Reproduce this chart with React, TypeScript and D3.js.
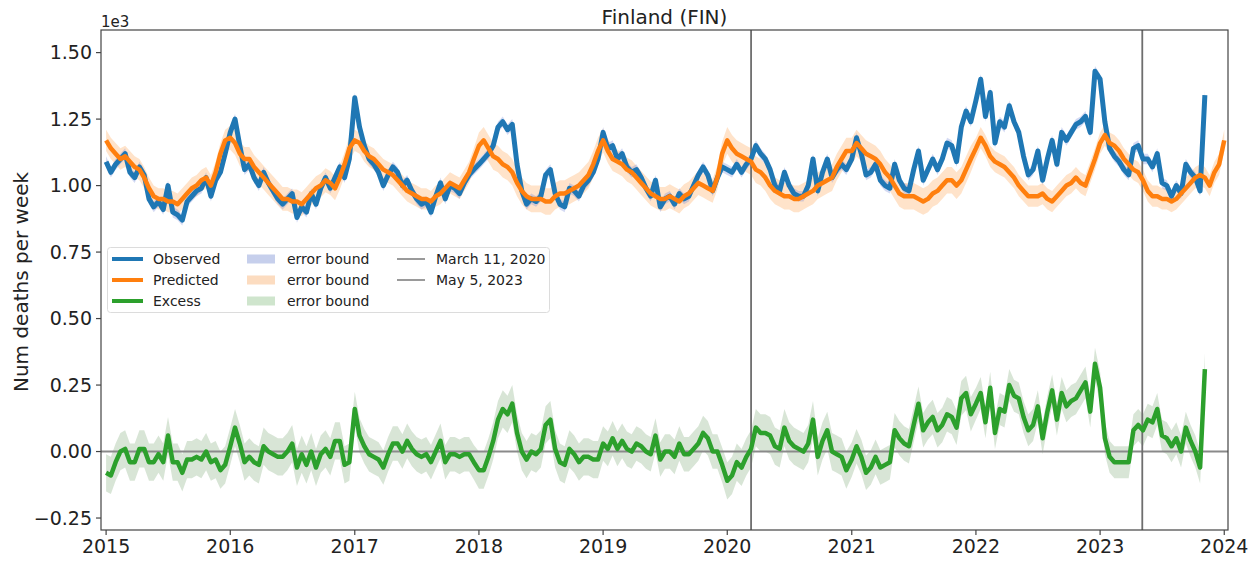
import React, { useMemo } from 'react'
import * as d3 from 'd3'

const width = 1259
const height = 561
const margin = { top: 30, right: 31, bottom: 31, left: 101 }

// weekly deaths in thousands, one value every two weeks, 26 per year starting Jan 1
const startYear = 2015
const observed = [
  // 2015
  1.09, 1.05, 1.08, 1.10, 1.12, 1.05, 1.03, 1.07, 1.04, 0.95, 0.92, 0.94, 0.91, 1.00, 0.90, 0.89, 0.87, 0.94, 0.96, 0.98, 0.99, 1.03, 0.96, 1.02, 1.05, 1.12,
  // 2016
  1.20, 1.25, 1.15, 1.06, 1.08, 1.03, 1.00, 1.05, 1.01, 0.98, 0.95, 0.93, 0.95, 0.97, 0.88, 0.92, 0.90, 0.97, 0.93, 0.99, 1.03, 0.99, 1.03, 1.07, 1.03, 1.10,
  // 2017
  1.33, 1.22, 1.15, 1.10, 1.08, 1.05, 1.00, 1.04, 1.07, 1.05, 1.00, 1.02, 0.98, 0.95, 0.93, 0.94, 0.90, 0.96, 1.01, 0.95, 1.00, 0.99, 0.97, 1.01, 1.04, 1.06,
  // 2018
  1.08, 1.10, 1.12, 1.15, 1.22, 1.24, 1.21, 1.23, 1.08, 0.98, 0.93, 0.95, 0.94, 0.96, 1.04, 1.06, 0.97, 0.93, 0.92, 0.99, 0.98, 0.96, 1.00, 1.02, 1.05, 1.10,
  // 2019
  1.20, 1.14, 1.15, 1.10, 1.12, 1.07, 1.05, 1.06, 1.03, 0.99, 0.96, 1.02, 0.92, 0.95, 0.96, 0.93, 0.97, 0.95, 0.96, 1.00, 1.04, 1.07, 1.04, 0.98, 1.03, 1.07,
  // 2020
  1.06, 1.05, 1.08, 1.05, 1.08, 1.10, 1.15, 1.12, 1.10, 1.06, 1.00, 0.98, 1.05, 1.00, 0.97, 0.96, 0.96, 1.00, 1.10, 0.98, 1.05, 1.10, 1.03, 1.06, 1.08, 1.06,
  // 2021
  1.10, 1.18, 1.12, 1.04, 1.05, 1.08, 1.02, 1.00, 0.99, 1.08, 1.02, 0.99, 0.98, 1.06, 1.13, 1.02, 1.06, 1.10, 1.06, 1.10, 1.16, 1.15, 1.09, 1.22, 1.28, 1.24,
  // 2022
  1.32, 1.40, 1.26, 1.35, 1.16, 1.24, 1.22, 1.30, 1.24, 1.20, 1.11, 1.04, 1.06, 1.13, 1.02, 1.10, 1.17, 1.08, 1.20, 1.17, 1.20, 1.23, 1.24, 1.26, 1.20, 1.43,
  // 2023
  1.40, 1.24, 1.14, 1.11, 1.09, 1.06, 1.04, 1.14, 1.15, 1.10, 1.10, 1.07, 1.12, 1.01, 1.00, 0.96, 1.00, 0.97, 1.08, 1.05, 1.03, 0.98, 1.34,
]

const predicted = [
  // 2015
  1.17, 1.14, 1.12, 1.10, 1.11, 1.09, 1.07, 1.06, 1.03, 0.99, 0.96, 0.95, 0.95, 0.94, 0.94, 0.93, 0.95, 0.97, 0.99, 1.00, 1.02, 1.03, 1.00, 1.05, 1.12, 1.17,
  // 2016
  1.18, 1.16, 1.12, 1.10, 1.10, 1.07, 1.05, 1.03, 1.01, 0.99, 0.97, 0.95, 0.95, 0.94, 0.94, 0.93, 0.95, 0.97, 0.99, 1.00, 1.02, 1.01, 0.99, 1.03, 1.08, 1.14,
  // 2017
  1.17, 1.16, 1.13, 1.11, 1.10, 1.08, 1.06, 1.05, 1.04, 1.02, 1.00, 0.98, 0.97, 0.96, 0.95, 0.95, 0.94, 0.96, 0.97, 0.99, 1.01, 1.00, 0.99, 1.02, 1.05, 1.10,
  // 2018
  1.15, 1.17, 1.14, 1.11, 1.10, 1.08, 1.07, 1.05, 1.01, 0.98, 0.96, 0.95, 0.95, 0.95, 0.94, 0.94, 0.96, 0.97, 0.97, 0.98, 0.99, 1.00, 1.02, 1.04, 1.08, 1.13,
  // 2019
  1.17, 1.13, 1.10, 1.09, 1.08, 1.06, 1.05, 1.03, 1.01, 0.99, 0.97, 0.96, 0.95, 0.95, 0.96, 0.95, 0.94, 0.96, 0.97, 0.99, 1.01, 1.00, 0.99, 0.98, 1.03, 1.12,
  // 2020
  1.17, 1.14, 1.12, 1.11, 1.10, 1.09, 1.06, 1.05, 1.03, 1.00, 0.98, 0.97, 0.96, 0.96, 0.95, 0.95, 0.96, 0.97, 0.98, 1.00, 1.01, 1.02, 1.03, 1.07, 1.10, 1.13,
  // 2021
  1.13, 1.16, 1.14, 1.12, 1.11, 1.10, 1.08, 1.05, 1.03, 1.00, 0.97, 0.96, 0.96, 0.96, 0.95, 0.94, 0.95, 0.97, 0.98, 1.00, 1.02, 1.02, 1.00, 1.02, 1.06, 1.10,
  // 2022
  1.14, 1.18, 1.15, 1.11, 1.09, 1.08, 1.07, 1.05, 1.03, 1.00, 0.98, 0.96, 0.96, 0.96, 0.97, 0.95, 0.94, 0.96, 0.98, 1.00, 1.01, 1.03, 1.01, 1.00, 1.05, 1.10,
  // 2023 (+ last point at the turn of the year)
  1.16, 1.19, 1.16, 1.15, 1.13, 1.10, 1.08, 1.06, 1.05, 1.02, 0.98, 0.96, 0.96, 0.95, 0.95, 0.94, 0.95, 0.97, 0.99, 1.01, 1.03, 1.04, 1.03, 1.00, 1.05, 1.08, 1.17,
]

// half widths of the error bounds, one per year
const observedBound = [0.02, 0.02, 0.02, 0.02, 0.02, 0.02, 0.02, 0.02, 0.02]
const predictedBound = [0.04, 0.045, 0.04, 0.05, 0.045, 0.05, 0.05, 0.04, 0.04]
const excessBound = [0.07, 0.07, 0.065, 0.07, 0.065, 0.07, 0.065, 0.06, 0.06]

const yearTicks = [2015, 2016, 2017, 2018, 2019, 2020, 2021, 2022, 2023, 2024]
const yTicks = [-0.25, 0, 0.25, 0.5, 0.75, 1.0, 1.25, 1.5]
const markers = [
  { label: 'March 11, 2020', date: new Date(2020, 2, 11) },
  { label: 'May 5, 2023', date: new Date(2023, 4, 5) },
]

const BLUE = '#1f77b4'
const ORANGE = '#ff7f0e'
const GREEN = '#2ca02c'
const FONT = '"DejaVu Sans", Verdana, sans-serif'

type Pt = { date: Date, v: number, year: number }

const toPoints = (values: number[]): Pt[] =>
  values.map((v, i) => {
    const year = startYear + Math.floor(i / 26)
    return { date: new Date(year, 0, 1 + (i % 26) * 14), v, year: Math.min(year, 2023) }
  })

function App() {
  const x = useMemo(
    () => d3.scaleTime()
      .domain([new Date(2014, 11, 17), new Date(2024, 0, 12)])
      .range([margin.left, width - margin.right]),
    []
  )
  const y = useMemo(
    () => d3.scaleLinear().domain([-0.295, 1.585]).range([height - margin.bottom, margin.top]),
    []
  )

  const obsPts = toPoints(observed)
  const predPts = toPoints(predicted)
  const excessPts = obsPts.map((p, i) => ({ ...p, v: p.v - predicted[i] }))

  const line = d3.line<Pt>().x(d => x(d.date)).y(d => y(d.v))
  const band = (bounds: number[]) => d3.area<Pt>()
    .x(d => x(d.date))
    .y0(d => y(d.v - bounds[d.year - startYear]))
    .y1(d => y(d.v + bounds[d.year - startYear]))

  const x0 = margin.left, x1 = width - margin.right
  const yTop = margin.top, yBot = height - margin.bottom
  const axisColor = '#444'

  const legendRows = [
    { color: BLUE, label: 'Observed', patch: '#c6cfec' },
    { color: ORANGE, label: 'Predicted', patch: '#fcdcc0' },
    { color: GREEN, label: 'Excess', patch: '#cfe5cd' },
  ]

  return (
    <svg width={width} height={height} style={{ position: 'absolute', left: 0, top: 0, background: '#fff' }}
      fontFamily={FONT}>
      <defs>
        <clipPath id="plot-clip">
          <rect x={x0} y={yTop} width={x1 - x0} height={yBot - yTop} />
        </clipPath>
      </defs>

      <g clipPath="url(#plot-clip)">
        <path d={band(predictedBound)(predPts)!} fill={ORANGE} fillOpacity={0.22} />
        <path d={band(observedBound)(obsPts)!} fill="#6f86d6" fillOpacity={0.3} />
        <path d={band(excessBound)(excessPts)!} fill="#9dbf98" fillOpacity={0.4} />

        <line x1={x0} x2={x1} y1={y(0)} y2={y(0)} stroke="#8a8a8a" strokeWidth={2} />
        {markers.map(m => (
          <line key={m.label} x1={x(m.date)} x2={x(m.date)} y1={yTop} y2={yBot} stroke="#6e6e6e" strokeWidth={1.8} />
        ))}

        <path d={line(obsPts)!} fill="none" stroke={BLUE} strokeWidth={5} strokeLinejoin="round" />
        <path d={line(predPts)!} fill="none" stroke={ORANGE} strokeWidth={4.5} strokeLinejoin="round" />
        <path d={line(excessPts)!} fill="none" stroke={GREEN} strokeWidth={4.5} strokeLinejoin="round" />
      </g>

      <rect x={x0} y={yTop} width={x1 - x0} height={yBot - yTop} fill="none" stroke={axisColor} strokeWidth={1.2} />

      {yTicks.map(t => (
        <g key={t} transform={`translate(0,${y(t)})`}>
          <line x1={x0 - 5} x2={x0} stroke={axisColor} strokeWidth={1.2} />
          <text x={x0 - 9} dy="0.35em" textAnchor="end" fontSize={19} fill="#222">
            {d3.format('.2f')(t).replace('-', '\u2212')}
          </text>
        </g>
      ))}

      {yearTicks.map(yr => {
        const px = x(new Date(yr, 0, 1))
        return (
          <g key={yr} transform={`translate(${px},0)`}>
            <line y1={yBot} y2={yBot + 5} stroke={axisColor} strokeWidth={1.2} />
            <text y={yBot + 23} textAnchor="middle" fontSize={19} fill="#222">{yr}</text>
          </g>
        )
      })}

      <text x={x0} y={27} fontSize={15} fill="#222">1e3</text>
      <text x={(x0 + x1) / 2} y={24} textAnchor="middle" fontSize={20} fill="#222">Finland (FIN)</text>
      <text transform={`translate(28,${(yTop + yBot) / 2 + 2}) rotate(-90)`} textAnchor="middle" fontSize={20} fill="#222">
        Num deaths per week
      </text>

      <g>
        <rect x={107.5} y={247.5} width={442} height={65} rx={3} fill="#fff" fillOpacity={0.85} stroke="#dcdcdc" />
        {legendRows.map((r, i) => {
          const ry = 259 + i * 21
          return (
            <g key={r.label}>
              <line x1={112} x2={143} y1={ry} y2={ry} stroke={r.color} strokeWidth={4} />
              <text x={153} y={ry} dy="0.35em" fontSize={14} fill="#222">{r.label}</text>
              <rect x={247} y={ry - 4.5} width={28} height={9} fill={r.patch} />
              <text x={287} y={ry} dy="0.35em" fontSize={14} fill="#222">error bound</text>
            </g>
          )
        })}
        {markers.map((m, i) => {
          const ry = 259 + i * 21
          return (
            <g key={m.label}>
              <line x1={397} x2={425} y1={ry} y2={ry} stroke="#9a9a9a" strokeWidth={2} />
              <text x={436} y={ry} dy="0.35em" fontSize={14} fill="#222">{m.label}</text>
            </g>
          )
        })}
      </g>
    </svg>
  )
}

export default App
